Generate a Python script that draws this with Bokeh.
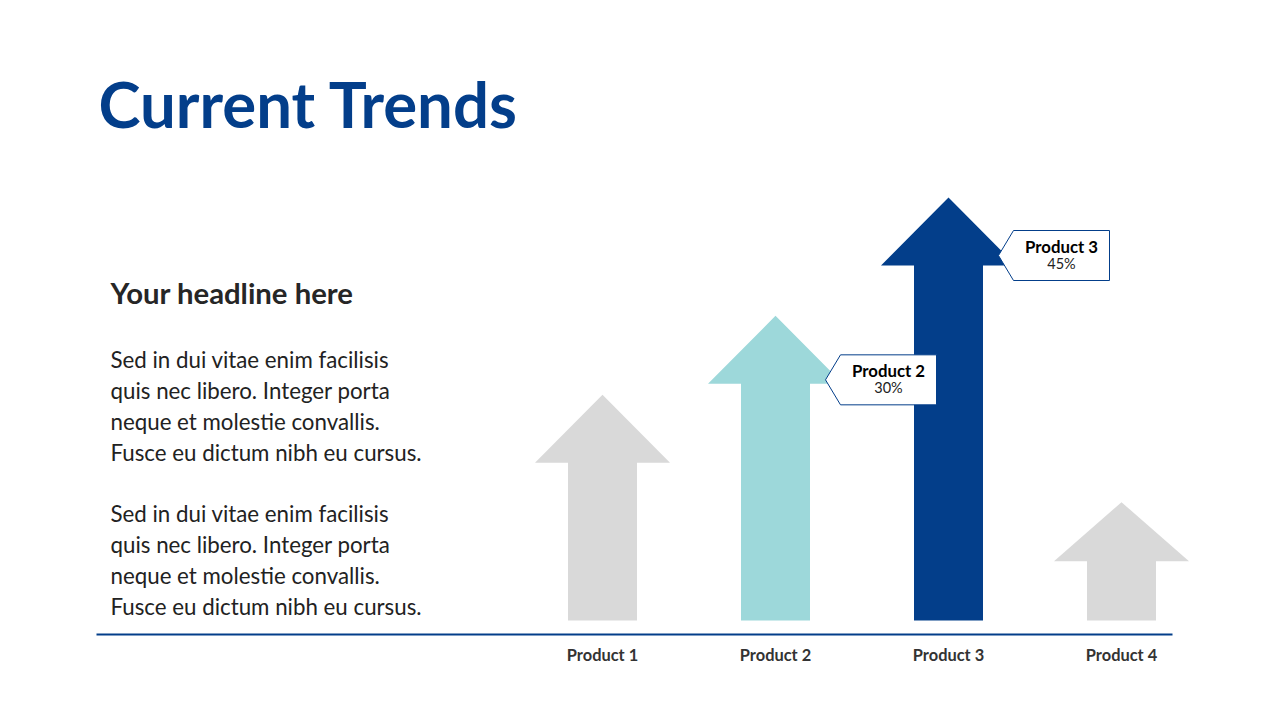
from bokeh.plotting import figure
from bokeh.models import Range1d
from bokeh.core.properties import value
from bokeh.embed import file_html
from bokeh.resources import INLINE

# ---------------- data ----------------
products = ["Product 1", "Product 2", "Product 3", "Product 4"]
values = [20, 30, 45, 7.5]          # shaft height (percent)
colors = ["#D9D9D9", "#9DD8DA", "#033E8A", "#D9D9D9"]
callout_products = ["Product 2", "Product 3"]
callout_labels = ["30%", "45%"]

title_text = "Current Trends"
headline = "Your headline here"
paragraph = ["Sed in dui vitae enim facilisis",
             "quis nec libero. Integer porta",
             "neque et molestie convallis.",
             "Fusce eu dictum nibh eu cursus."]

NAVY = "#033E8A"
FONT = "Lato"

# ---------------- layout (page pixel -> data) ----------------
W, H = 1264, 704
SLOT = 173.0           # px between product centres
X1 = 602.0             # page x of product 1 centre
BASE = 620.0           # page y of the arrow base
K = 355.0 / 45.0       # px per percent
SHIFT = 0.37           # baseline correction (em)
CALLOUT_RAISE = [4, 10]  # px the callout tip sits above the shaft top

def X(px):  # page x -> data x
    return 1 + (px - X1) / SLOT

def Y(py):  # page y -> data y
    return (BASE - py) / K

def TY(py, fs):  # text baseline page y -> data y
    return Y(py - SHIFT * fs)

p = figure(width=W, height=H, output_backend="svg", toolbar_location=None,
           x_range=Range1d(X(0), X(W)), y_range=Range1d(Y(H), Y(0)),
           x_axis_type=None, y_axis_type=None, min_border=0)
p.outline_line_color = None
p.grid.visible = False
p.background_fill_color = "white"
p.border_fill_color = "white"

# ---------------- arrows ----------------
shaft_w = 69 / SLOT
head_w = 135 / SLOT
head_h_max = 68 / K
xs, ys = [], []
for i, v in enumerate(values):
    c = i + 1
    hh = min(head_h_max, v)
    xs.append([c - shaft_w / 2, c - shaft_w / 2, c - head_w / 2, c, c + head_w / 2,
               c + shaft_w / 2, c + shaft_w / 2])
    ys.append([0, v, v, v + hh, v, v, 0])
p.patches(xs, ys, fill_color=colors, line_color=None)

# baseline rule
p.line([X(96), X(1172)], [Y(634), Y(634)], line_color=NAVY, line_width=2)

# product labels
fs = 16.4
p.text([i + 1 for i in range(len(products))], [TY(660, fs)] * len(products), text=products,
       text_font=value(FONT), text_font_style="bold", text_font_size=f"{fs}px",
       text_color="#333333", text_align="center", text_baseline="alphabetic")

# ---------------- callouts ----------------
for name, lab, raise_px in zip(callout_products, callout_labels, CALLOUT_RAISE):
    i = products.index(name)
    tip_x = X1 + i * SLOT + 50
    tip_y = BASE - values[i] * K - raise_px
    pts_x = [tip_x, tip_x + 15, tip_x + 111, tip_x + 111, tip_x + 15]
    pts_y = [tip_y, tip_y - 25, tip_y - 25, tip_y + 25, tip_y + 25]
    p.patch([X(a) for a in pts_x], [Y(b) for b in pts_y], fill_color="white",
            line_color=NAVY, line_width=1)
    p.text([X(tip_x + 63)], [TY(tip_y - 3, 16.8)], text=[name], text_font=value(FONT),
           text_font_style="bold", text_font_size="16.8px", text_color="#000000",
           text_align="center", text_baseline="alphabetic")
    p.text([X(tip_x + 63)], [TY(tip_y + 13, 14.5)], text=[lab], text_font=value(FONT),
           text_font_size="14.5px", text_color="#222222",
           text_align="center", text_baseline="alphabetic")

# ---------------- titles and body text ----------------
p.text([X(98)], [TY(126, 63.5)], text=[title_text], text_font=value(FONT),
       text_font_style="bold", text_font_size="63.5px", text_color=NAVY,
       text_align="left", text_baseline="alphabetic")
p.text([X(110)], [TY(303, 29.3)], text=[headline], text_font=value(FONT),
       text_font_style="bold", text_font_size="29.3px", text_color="#262626",
       text_align="left", text_baseline="alphabetic")

line_y = [367, 398, 429, 460, 521, 552, 583, 614]
body = paragraph + paragraph
p.text([X(110)] * len(body), [TY(b, 22.3) for b in line_y], text=body, text_font=value(FONT),
       text_font_size="22.3px", text_color="#222222",
       text_align="left", text_baseline="alphabetic")

open("out.html", "w").write(file_html(p, INLINE))
